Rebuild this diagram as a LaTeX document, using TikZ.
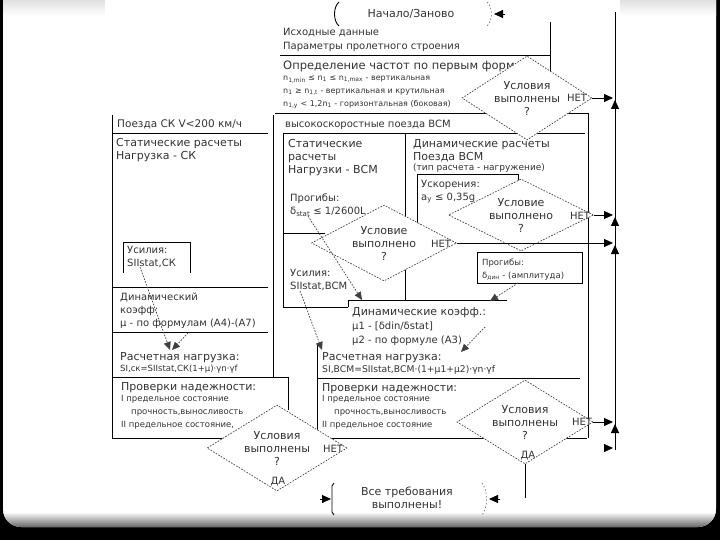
\documentclass[tikz,border=0pt]{standalone}
\usepackage{fontspec}
\setmainfont{DejaVu Sans}
\usetikzlibrary{shapes.geometric,arrows.meta}
\newcommand\fbig{\fontsize{11}{13}\selectfont}
\newcommand\fnorm{\fontsize{10}{13}\selectfont}
\newcommand\fsmall{\fontsize{8}{13}\selectfont}
\begin{document}
\begin{tikzpicture}[x=1pt,y=-1pt,
  every node/.style={inner sep=0pt, text=black!80},
  tb/.style={anchor=north west, align=left, font=\fnorm},
  ln/.style={line width=0.9pt, draw=black},
  dia/.style={diamond, draw=black!75, line width=0.7pt, dash pattern=on 1.6pt off 1.4pt, fill=white, aspect=1.7, align=center, font=\fbig},
  dcon/.style={draw=black!75, line width=0.7pt, dash pattern=on 1.6pt off 1.4pt, -{Triangle[length=8pt,width=7pt]}},
  hd/.style={line width=0.9pt, -{Triangle[length=9pt,width=8pt]}},
  lbl/.style={font=\fnorm},
  brk/.style={draw=black!60, line width=0.6pt, dash pattern=on 1.5pt off 2pt},
]
% ---------- slide background ----------
\useasboundingbox (0,0) rectangle (720,540);
\fill[black] (0,0) rectangle (720,540);
\begin{scope}
  \clip[rounded corners=18pt] (3,-40) rectangle (716,527);
  \fill[white] (0,0) rectangle (720,540);
  \shade[top color=white, bottom color=black!60] (0,512) rectangle (720,527);
  \shade[top color=black!12, bottom color=white] (0,0) rectangle (720,16);
\end{scope}
\fill[white] (105,0) rectangle (620,512);

% ---------- frames (solid lines) ----------
\draw[ln] (550,22) -- (550,80);
\draw[ln] (280,55) -- (550,55);
\draw[ln] (275,113) -- (588,113);
% SK column
\draw[ln] (112,115) -- (112,438) -- (240,438);
\draw[ln] (273,115) -- (273,377);
\draw[ln] (113,133) -- (268,133);
\draw[ln] (123,273) -- (123,242) -- (190,242) -- (190,273);
\draw[ln] (112,287) -- (268,287);
\draw[ln] (112,332) -- (268,332);
\draw[ln] (112,377) -- (288,377) -- (288,410);
% VSM column
\draw[ln] (283,133) -- (585,133);
\draw[ln] (283,133) -- (283,307) -- (348,307);
\draw[ln] (405,133) -- (405,230);
\draw[ln] (588,113) -- (588,438);
\draw[ln] (417,225) -- (417,174) -- (518,174) -- (518,190);
\draw[ln] (283,233) -- (325,233);
\draw[ln] (477,252) rectangle (582,283);
\draw[ln] (405,262) -- (405,300);
\draw[ln] (348,307) -- (348,300) -- (507,300);
\draw[ln] (317,343) -- (317,438) -- (587,438);
\draw[ln] (317,378) -- (580,378);
% right return line
\draw[ln] (615,12) -- (615,450);

% ---------- texts ----------
\node[font=\fbig] (start) at (411,14) {Начало/Заново};
\draw[ln] (339,2) .. controls (333,7) and (333,21) .. (339,26);
\draw[brk] (487,2) .. controls (493,7) and (493,21) .. (487,26);

\node[tb, font=\fontsize{10}{14}\selectfont] (init) at (283,28.5) {Исходные данные\\Параметры пролетного строения};
\node[tb, font=\fontsize{11.5}{13}\selectfont] (freqt) at (283,61) {Определение частот по первым форм};
\node[tb, font=\fsmall] (freql) at (283,75.5) {n\textsubscript{1,min} ≤ n\textsubscript{1} ≤ n\textsubscript{1,max} - вертикальная\\n\textsubscript{1} ≥ n\textsubscript{1,t} - вертикальная и крутильная\\n\textsubscript{1,y} < 1,2n\textsubscript{1} - горизонтальная (боковая)};

\node[tb, font=\fontsize{10.5}{13}\selectfont] (skh) at (117,120) {Поезда СК V<200 км/ч};
\node[tb, font=\fbig] (sks) at (116,138) {Статические расчеты\\Нагрузка - СК};
\node[tb] (skf) at (127,246) {Усилия:\\SIIstat,СК};
\node[tb] (skd) at (120,292.5) {Динамический\\коэфф:\\μ - по формулам (А4)-(А7)};
\node[tb, font=\fbig] (skl1) at (120,352) {Расчетная нагрузка:};
\node[tb, font=\fontsize{8.5}{13}\selectfont] (skl2) at (120,364.5) {SI,ск=SIIstat,СК(1+μ)·γn·γf};
\node[tb, font=\fbig] (skc1) at (121,382) {Проверки надежности:};
\node[tb, font=\fontsize{8.5}{13}\selectfont] (skc2) at (121,395.5) {I предельное состояние\\\hspace{10pt}прочность,выносливость\\II предельное состояние,};

\node[tb] (vsh) at (285,120) {высокоскоростные поезда ВСМ};
\node[tb, font=\fbig] (vss) at (288,139) {Статические\\расчеты\\Нагрузки - ВСМ};
\node[tb, font=\fbig] (vsd) at (413,139) {Динамические расчеты\\Поезда ВСМ};
\node[tb, font=\fontsize{9}{13}\selectfont] (vsd3) at (413,163) {(тип расчета - нагружение)};
\node[tb] (acc) at (421,180) {Ускорения:\\a\textsubscript{у} ≤ 0,35g};
\node[tb] (vdf) at (290,194) {Прогибы:\\δ\textsubscript{stat} ≤ 1/2600L};
\node[tb] (vsf) at (290,269) {Усилия:\\SIIstat,ВСМ};
\node[tb, font=\fontsize{8.5}{13}\selectfont] (ddf) at (482,258.5) {Прогибы:\\δ\textsubscript{дин} - (амплитуда)};
\node[tb, font=\fbig] (dco1) at (352,307) {Динамические коэфф.:};
\node[tb, font=\fontsize{10}{14}\selectfont] (dco2) at (352,322) {μ1 - [δdin/δstat]\\μ2 - по формуле (А3)};
\node[tb, font=\fbig] (ld1) at (322,352) {Расчетная нагрузка:};
\node[tb, font=\fontsize{9.2}{13}\selectfont] (ld2) at (322,365) {SI,ВСМ=SIIstat,ВСМ·(1+μ1+μ2)·γn·γf};
\node[tb, font=\fbig] (ck1) at (322,383) {Проверки надежности:};
\node[tb, font=\fontsize{8.5}{13}\selectfont] (ck2) at (322,395.5) {I предельное состояние\\\hspace{12pt}прочность,выносливость\\II предельное состояние};

% ---------- decisions ----------
\node[dia, minimum width=130, minimum height=84] (d1) at (527,98) {Условия\\выполнены\\?};
\node[dia, minimum width=145, minimum height=72] (d2) at (521,215) {Условие\\выполнено\\?};
\node[dia, minimum width=145, minimum height=76] (ds) at (384,243) {Условие\\выполнено\\?};
\node[dia, minimum width=136, minimum height=84] (d3) at (525,422) {Условия\\выполнены\\?};
\node[dia, minimum width=140, minimum height=86] (d4) at (277,448) {Условия\\выполнены\\?};

\node[lbl] (no1) at (577,98) {НЕТ};
\node[lbl] (no2) at (580,216) {НЕТ};
\node[lbl] (nos) at (441,244) {НЕТ};
\node[lbl] (no3) at (582,422) {НЕТ};
\node[lbl] (no4) at (333,449) {НЕТ};
\node[lbl] (ye3) at (528,456) {ДА};
\node[lbl] (ye4) at (278,482) {ДА};

% ---------- end terminal ----------
\node[font=\fbig, align=center] (fin) at (407,498) {Все требования\\выполнены!};
\draw[ln] (334,483) -- (332,486) -- (332,512) -- (334,515);
\draw[brk] (482,483) .. controls (488,490) and (488,508) .. (482,515);

% ---------- connectors ----------
\coordinate (r1) at (613,98);
\coordinate (r2) at (613,215);
\coordinate (rs) at (613,243);
\coordinate (r3) at (613,422);
\draw[hd] (d1.east) -- (r1);
\draw[hd] (d2.east) -- (r2);
\draw[hd] (ds.east) -- (rs);
\draw[hd] (d3.east) -- (r3);
\coordinate (r4a) at (604,448); \coordinate (r4) at (613,448);
\draw[hd] (r4a) -- (r4);
\draw[hd] (615,112) -- (615,100);
\draw[hd] (615,229) -- (615,217);
\draw[hd] (615,257) -- (615,245);
\draw[hd] (615,436) -- (615,424);

\coordinate (stin) at (505,14); \coordinate (sttip) at (494,14);
\draw[hd] (stin) -- (sttip);
\coordinate (d3out) at (525,498);
\draw[ln] (d3.south) -- (d3out);
\coordinate (finR0) at (500,499); \coordinate (finR) at (489,499);
\draw[hd] (finR0) -- (finR);
\coordinate (finL0) at (320,499); \coordinate (finL) at (331,499);
\draw[hd] (finL0) -- (finL);

% dashed data arrows
\coordinate (a1) at (308,216); \coordinate (b1) at (362,300);
\draw[dcon] (a1) -- (b1);
\coordinate (a2) at (300,291); \coordinate (b2) at (322,350);
\draw[dcon] (a2) -- (b2);
\coordinate (a3) at (518,283); \coordinate (b3) at (490,301);
\draw[dcon] (a3) -- (b3);
\coordinate (a4) at (485,327); \coordinate (b4) at (461,352);
\draw[dcon] (a4) -- (b4);
\coordinate (a5) at (140,267); \coordinate (b5) at (170,350);
\draw[dcon] (a5) -- (b5);
\coordinate (a6) at (188,333); \coordinate (b6) at (172,350);
\draw[dcon] (a6) -- (b6);
\end{tikzpicture}
\end{document}
